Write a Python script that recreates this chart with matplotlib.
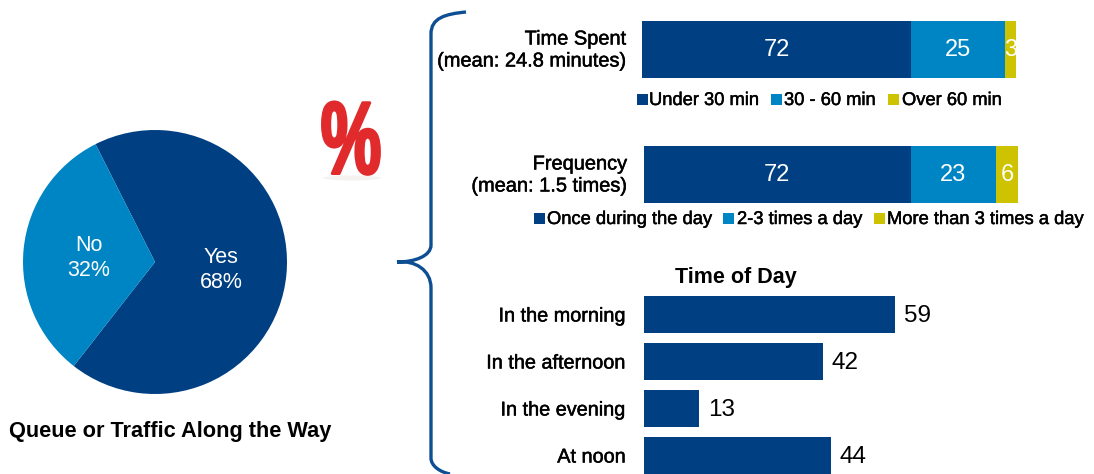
import matplotlib
matplotlib.use('Agg')
import matplotlib.pyplot as plt
import matplotlib.patheffects as pe
from matplotlib.patches import Ellipse, PathPatch, Rectangle
from matplotlib.path import Path
from matplotlib.transforms import Affine2D

plt.rcParams['font.family'] = ['Liberation Sans', 'DejaVu Sans']

NAVY = '#004082'
BLUE = '#0085c4'
YELLOW = '#cdc300'
RED = '#e02a2c'
W, H = 1094, 474

pie_labels = ['Yes\n68%', 'No\n32%']
pie_values = [68, 32]

time_spent = [72, 25, 3]
time_spent_legend = ['Under 30 min', '30 - 60 min', 'Over 60 min']

frequency = [72, 23, 6]
frequency_legend = ['Once during the day', '2-3 times a day', 'More than 3 times a day']

day_labels = ['In the morning', 'In the afternoon', 'In the evening', 'At noon']
day_values = [59, 42, 13, 44]

fig = plt.figure(figsize=(W / 100, H / 100), dpi=100, facecolor='white')
heavy = [pe.withStroke(linewidth=0.35, foreground='black')]


def axes_px(left, top, right, bottom):
    # axes placed with pixel edges, y counted from the top of the figure
    ax = fig.add_axes([left / W, 1 - bottom / H, (right - left) / W, (bottom - top) / H])
    ax.axis('off')
    return ax


class Squeeze(pe.AbstractPathEffect):
    # draws the glyphs narrower around a fixed x, thickened with a stroke
    def __init__(self, cx, sx, lw, color):
        super().__init__()
        self.cx, self.sx, self.lw, self.color = cx, sx, lw, color

    def draw_path(self, renderer, gc, tpath, affine, rgbFace=None):
        t = affine + Affine2D().translate(-self.cx, 0).scale(self.sx, 1).translate(self.cx, 0)
        gc.set_linewidth(self.lw)
        gc.set_foreground(self.color)
        renderer.draw_path(gc, tpath, t, rgbFace)


# overlay in pixel units for the free text, legends and the brace
page = axes_px(0, 0, W, H)
page.set_zorder(10)
page.set_xlim(0, W)
page.set_ylim(H, 0)

# pie
pie_ax = axes_px(23, 130, 287, 394)
pie_ax.pie(pie_values, colors=[NAVY, BLUE], startangle=116.8, counterclock=False,
           radius=1.0, center=(0, 0))
pie_ax.set_xlim(-1, 1)
pie_ax.set_ylim(-1, 1)
page.text(221, 270, pie_labels[0], color='white', fontsize=15.5, ha='center', va='center')
page.text(89, 258, pie_labels[1], color='white', fontsize=15.5, ha='center', va='center')
page.text(170, 431, 'Queue or Traffic Along the Way', fontsize=15.7, fontweight='bold', ha='center', va='center')

# percent sign with its soft shadow
page.add_patch(Ellipse((352, 178), 58, 5, color='#f5f2f2', lw=0))
page.text(351, 147, '%', color=RED, fontsize=74, fontweight='bold', ha='center', va='center',
          path_effects=[Squeeze(351, 0.66, 2.2, RED)])

# brace
brace = Path([(466, 12), (445, 14), (431, 18), (431, 34),
              (431, 245), (431, 256), (415, 262), (397, 262),
              (415, 260), (431, 270), (431, 288),
              (431, 458), (431, 466), (440, 472), (450, 474)],
             [Path.MOVETO, Path.CURVE4, Path.CURVE4, Path.CURVE4,
              Path.LINETO, Path.CURVE4, Path.CURVE4, Path.CURVE4,
              Path.CURVE4, Path.CURVE4, Path.CURVE4,
              Path.LINETO, Path.CURVE4, Path.CURVE4, Path.CURVE4])
page.add_patch(PathPatch(brace, fc='none', ec='#0d4f92', lw=2.4))


def stacked(left, top, right, bottom, values):
    ax = axes_px(left, top, right, bottom)
    ax.set_xlim(0, sum(values))
    ax.set_ylim(0, 1)
    start = 0
    for val, col in zip(values, [NAVY, BLUE, YELLOW]):
        ax.barh(0.5, val, left=start, height=1, color=col)
        ax.text(start + val / 2, 0.49, str(val), color='white', fontsize=17, ha='center', va='center', clip_on=True)
        start += val


def legend_row(y, items, box_x, text_x):
    for name, col, bx, tx in zip(items, [NAVY, BLUE, YELLOW], box_x, text_x):
        page.add_patch(Rectangle((bx, y - 5.5), 11, 11, color=col, lw=0))
        page.text(tx, y + 1.5, name, fontsize=13.2, va='center', path_effects=heavy)


stacked(642, 21, 1016, 78, time_spent)
page.text(626, 50, 'Time Spent\n(mean: 24.8 minutes)', fontsize=14.4, ha='right', va='center',
          multialignment='right', path_effects=heavy)
legend_row(99, time_spent_legend, [637, 771, 888], [649, 784, 902])

stacked(644, 146, 1018, 203, frequency)
page.text(627, 175, 'Frequency\n(mean: 1.5 times)', fontsize=14.4, ha='right', va='center',
          multialignment='right', path_effects=heavy)
legend_row(218, frequency_legend, [534, 723, 874], [547, 737, 887])

# time of day bars, scaled at 4.26 px per percentage point
day_ax = axes_px(644, 291, 1070, 479)
day_ax.set_xlim(0, 100)
day_ax.set_ylim(3.5, -0.5)
day_ax.barh(range(len(day_values)), day_values, height=0.79, color=NAVY)
for i, (name, val) in enumerate(zip(day_labels, day_values)):
    day_ax.text(val + 2, i + 0.04, str(val), fontsize=17.5, va='center')
    page.text(626, 316 + i * 47, name, fontsize=14.3, ha='right', va='center', path_effects=heavy)
page.text(736, 277, 'Time of Day', fontsize=15.5, fontweight='bold', ha='center', va='center')

fig.savefig('out.png', dpi=100)
